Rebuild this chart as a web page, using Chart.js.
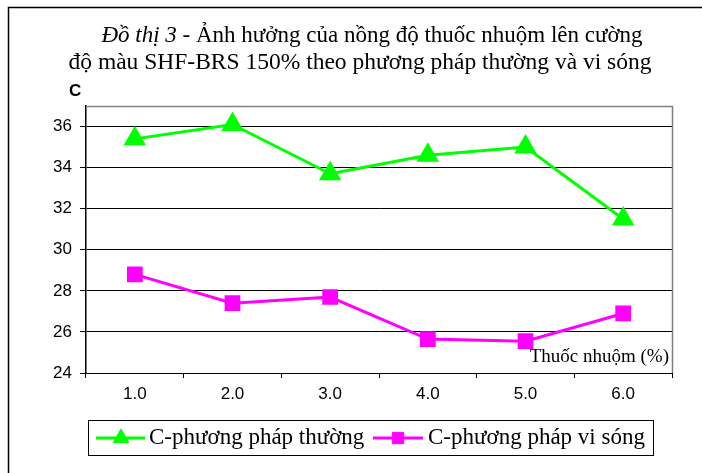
<!DOCTYPE html>
<html><head><meta charset="utf-8">
<script src="https://cdn.jsdelivr.net/npm/chart.js@4"></script>
<style>html,body{margin:0;padding:0;background:#fff}#wrap{width:702px;height:473px;position:relative}</style>
</head><body><div id="wrap"><canvas id="c" width="702" height="473"></canvas></div>
<script>
const categories = ['1.0','2.0','3.0','4.0','5.0','6.0'];
const seriesThuong = [35.4, 36.1, 33.7, 34.6, 35.0, 31.5];
const seriesViSong = [28.8, 27.4, 27.7, 25.65, 25.55, 26.9];
const yTicks = [24, 26, 28, 30, 32, 34, 36];
const seriesNames = ['C-phương pháp thường', 'C-phương pháp vi sóng'];
const titleItalic = 'Đồ thị 3';
const titleRest1 = ' - Ảnh hưởng của nồng độ thuốc nhuộm lên cường';
const titleLine2 = 'độ màu SHF-BRS 150% theo phương pháp thường và vi sóng';
const yAxisLabel = 'C';
const xAxisLabel = 'Thuốc nhuộm (%)';

const SERIF = '"Liberation Serif", "Times New Roman", serif';
const SANS = '"Liberation Sans", Arial, sans-serif';
const GREEN = '#00FF00', MAGENTA = '#FF00FF';

const decor = {
  id: 'decor',
  afterDraw(chart) {
    const ctx = chart.ctx, a = chart.chartArea;
    ctx.save();
    // outer frame
    ctx.strokeStyle = '#000'; ctx.lineWidth = 1.5;
    ctx.strokeRect(8.5, 7.5, 900, 700);
    // plot border top/right
    ctx.strokeStyle = '#808080'; ctx.lineWidth = 1.5;
    ctx.beginPath();
    ctx.moveTo(a.left, a.top + 0.5); ctx.lineTo(a.right + 0.5, a.top + 0.5); ctx.lineTo(a.right + 0.5, a.bottom);
    ctx.stroke();
    // title
    ctx.fillStyle = '#000'; ctx.textBaseline = 'middle';
    const fIt = 'italic 23px ' + SERIF, fRg = '23px ' + SERIF;
    ctx.font = fIt; const w1 = ctx.measureText(titleItalic).width;
    ctx.font = fRg; const w2 = ctx.measureText(titleRest1).width;
    let x0 = 372 - (w1 + w2) / 2;
    ctx.textAlign = 'left';
    ctx.font = fIt; ctx.fillText(titleItalic, x0, 36);
    ctx.font = fRg; ctx.fillText(titleRest1, x0 + w1, 36);
    ctx.font = '23.5px ' + SERIF;
    ctx.textAlign = 'center';
    ctx.fillText(titleLine2, 360, 63);
    // axis labels
    ctx.font = 'bold 17px ' + SANS; ctx.textAlign = 'left';
    ctx.fillText(yAxisLabel, 69, 91);
    ctx.font = '19px ' + SERIF; ctx.textAlign = 'right';
    ctx.fillText(xAxisLabel, 669, 357);
    // legend
    ctx.strokeStyle = '#000'; ctx.lineWidth = 1;
    ctx.strokeRect(88.5, 420.5, 565, 35);
    const ly = 438;
    const items = [
      {x1: 96, x2: 145, mx: 121, tx: 149, color: GREEN, style: 'triangle', r: 9},
      {x1: 373, x2: 423, mx: 398, tx: 428, color: MAGENTA, style: 'rect', r: 8}
    ];
    ctx.font = '23px ' + SERIF; ctx.textAlign = 'left';
    items.forEach((it, i) => {
      ctx.strokeStyle = it.color; ctx.lineWidth = 3;
      ctx.beginPath(); ctx.moveTo(it.x1, ly); ctx.lineTo(it.x2, ly); ctx.stroke();
      ctx.fillStyle = it.color; ctx.strokeStyle = it.color; ctx.lineWidth = 1;
      Chart.helpers.drawPoint(ctx, {pointStyle: it.style, radius: it.r, borderWidth: 1}, it.mx, ly);
      ctx.fillStyle = '#000';
      ctx.fillText(seriesNames[i], it.tx, ly);
    });
    ctx.restore();
  }
};

new Chart(document.getElementById('c'), {
  type: 'line',
  data: {
    labels: categories,
    datasets: [
      {label: seriesNames[0], data: seriesThuong, borderColor: GREEN, backgroundColor: GREEN,
       borderWidth: 3, pointStyle: 'triangle', pointRadius: 10, pointHoverRadius: 10, tension: 0},
      {label: seriesNames[1], data: seriesViSong, borderColor: MAGENTA, backgroundColor: MAGENTA,
       borderWidth: 3, pointStyle: 'rect', pointRadius: 9, pointHoverRadius: 9, tension: 0}
    ]
  },
  options: {
    responsive: false, animation: false, devicePixelRatio: 1,
    layout: {padding: {top: 106, right: 30, bottom: 73, left: 0}},
    plugins: {legend: {display: false}, title: {display: false}, tooltip: {enabled: false}},
    scales: {
      x: {
        type: 'category', offset: true,
        grid: {drawOnChartArea: false, drawTicks: true, tickLength: 5, color: '#000', offset: true},
        border: {color: '#000', width: 1},
        ticks: {font: {family: SANS, size: 17}, color: '#000', padding: 6, maxRotation: 0},
        afterFit(s) { s.height = 27; }
      },
      y: {
        min: 24, max: 37,
        afterBuildTicks(axis) { axis.ticks = yTicks.map(v => ({value: v})); },
        afterFit(s) { s.width = 86; },
        grid: {color: '#000', lineWidth: 1, tickLength: 6},
        border: {color: '#000', width: 1.5},
        ticks: {font: {family: SANS, size: 17}, color: '#000', padding: 8}
      }
    }
  },
  plugins: [decor]
});
</script></body></html>
